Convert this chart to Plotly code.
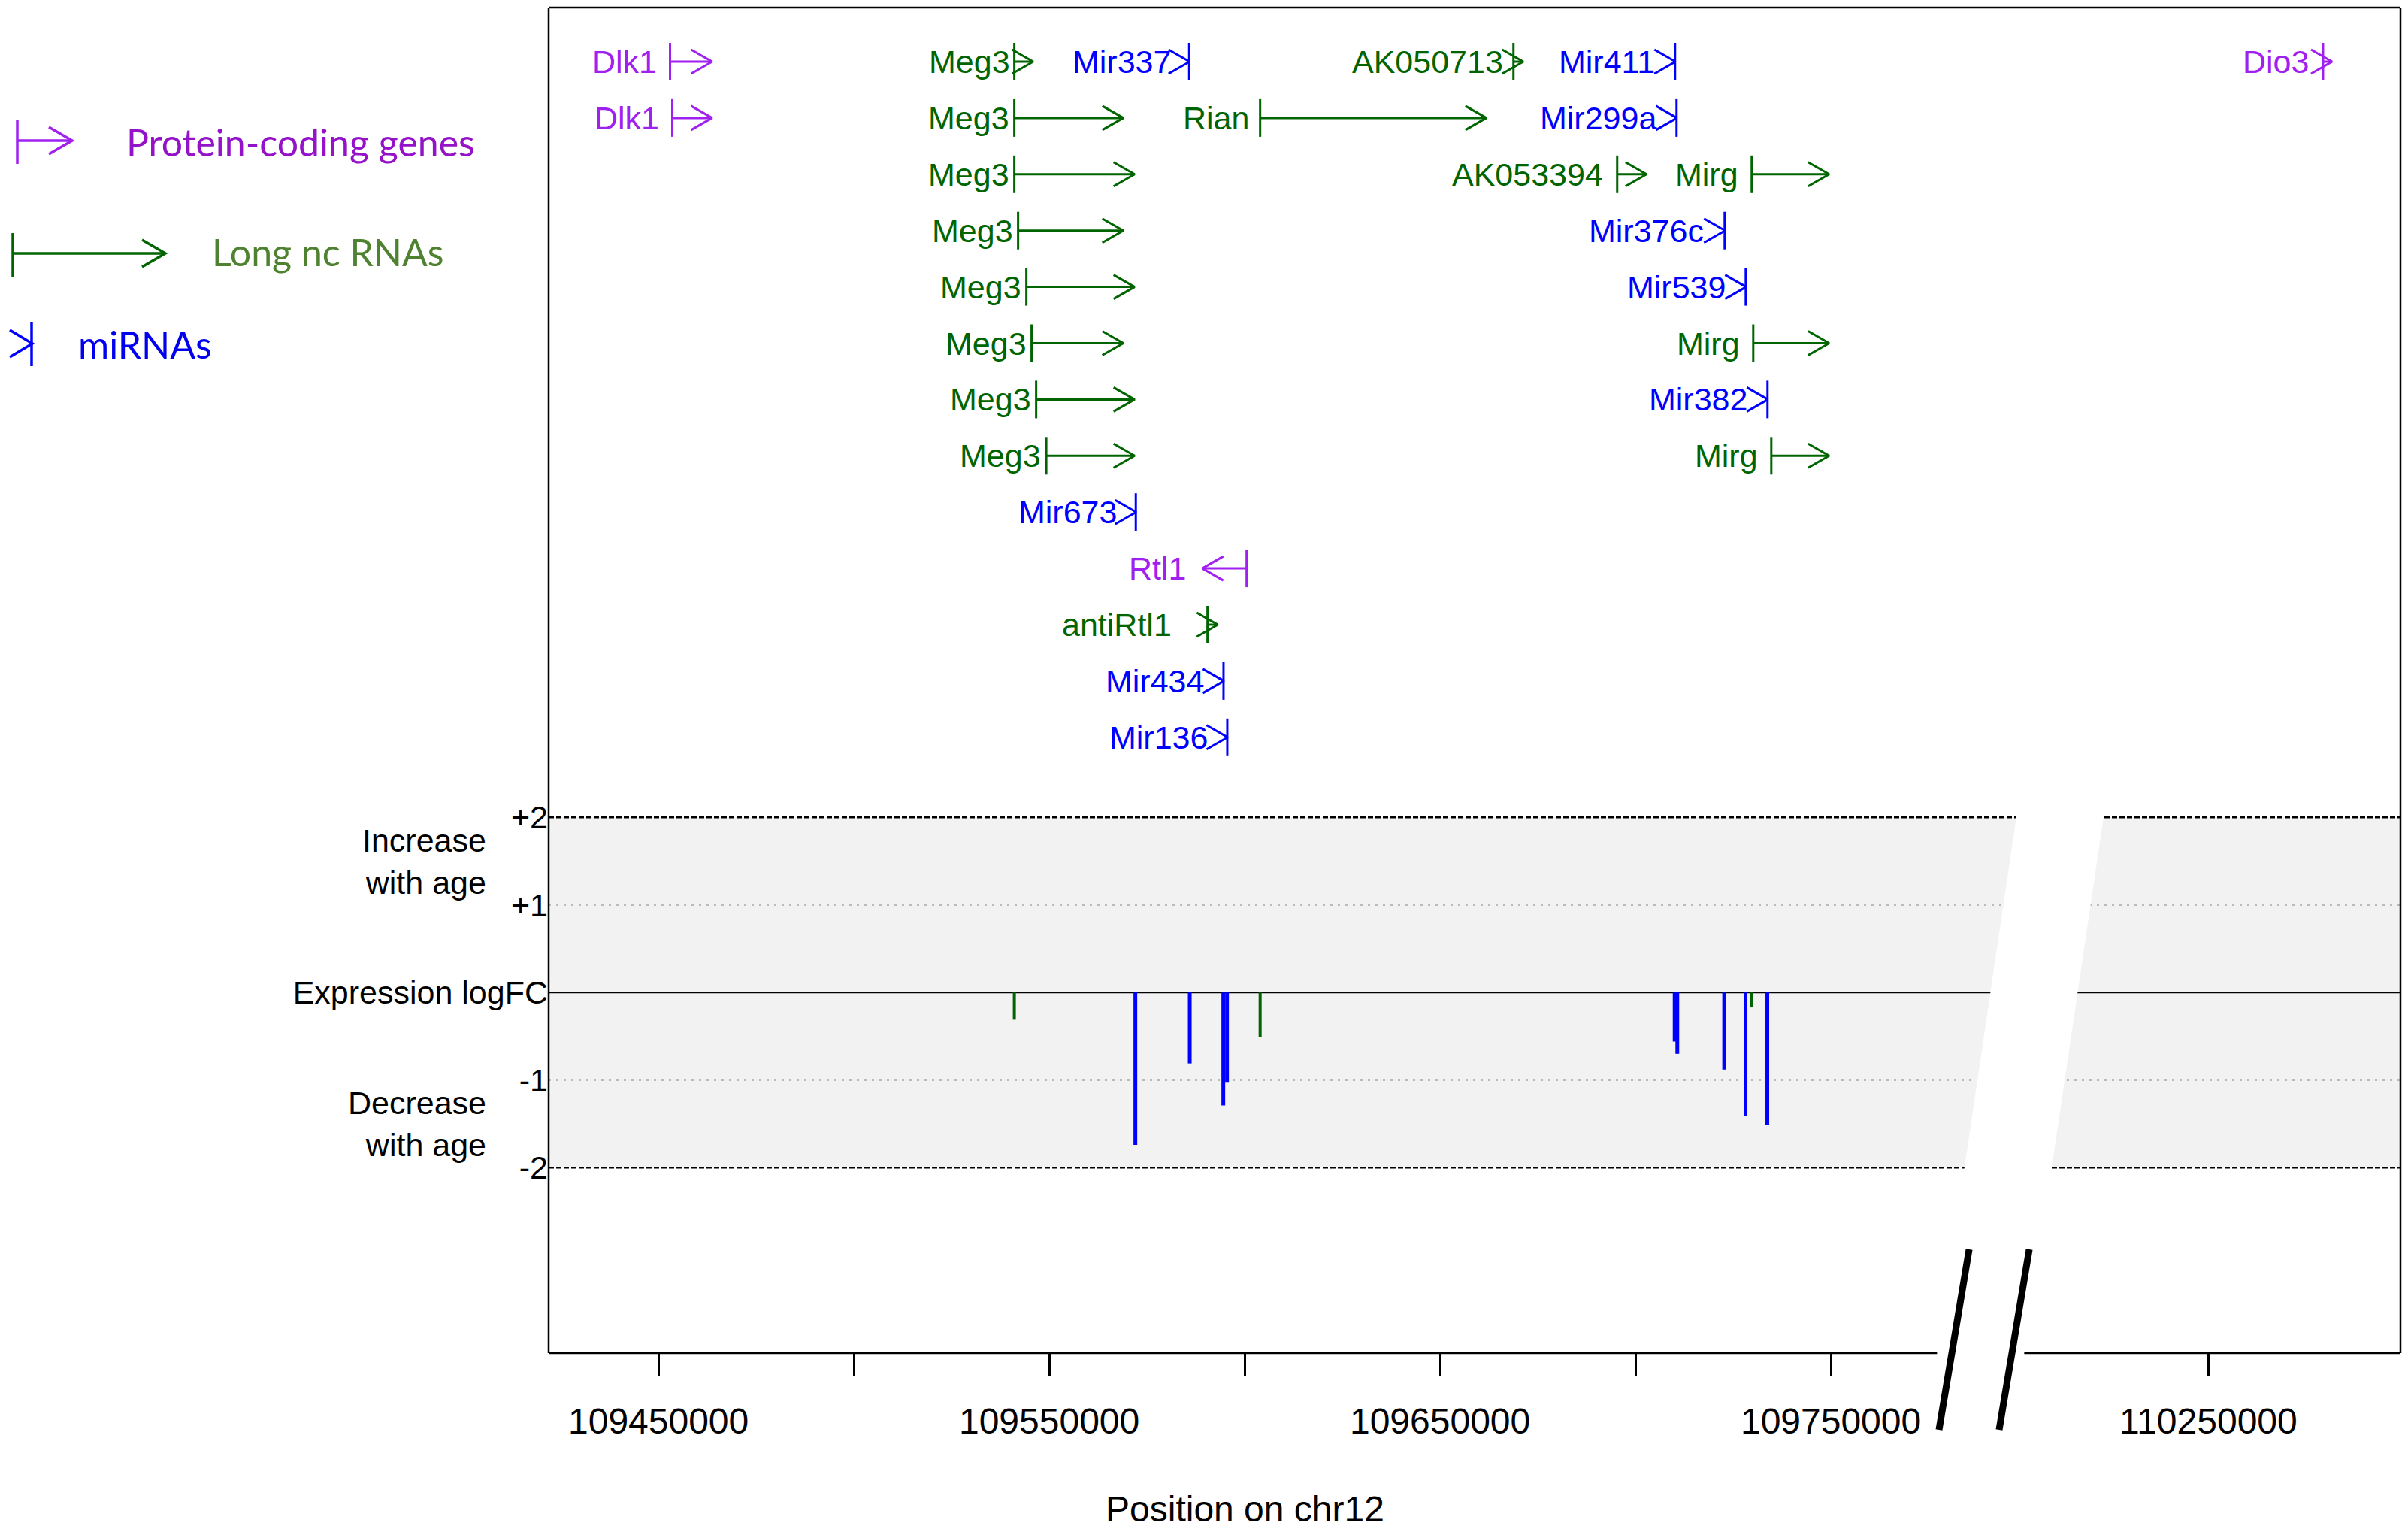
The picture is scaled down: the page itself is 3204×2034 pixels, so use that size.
import plotly.graph_objects as go

# ------------------------------------------------------------------ data
gene_names = ["Dlk1", "Meg3", "Mir337", "AK050713", "Mir411", "Dio3",
              "Dlk1", "Meg3", "Rian", "Mir299a",
              "Meg3", "AK053394", "Mirg",
              "Meg3", "Mir376c",
              "Meg3", "Mir539",
              "Meg3", "Mirg",
              "Meg3", "Mir382",
              "Meg3", "Mirg",
              "Mir673", "Rtl1", "antiRtl1", "Mir434", "Mir136"]
gene_types = ["protein", "lnc", "mirna", "lnc", "mirna", "protein",
              "protein", "lnc", "lnc", "mirna",
              "lnc", "lnc", "lnc",
              "lnc", "mirna",
              "lnc", "mirna",
              "lnc", "lnc",
              "lnc", "mirna",
              "lnc", "lnc",
              "mirna", "protein", "lnc", "mirna", "mirna"]
gene_rows = [1, 1, 1, 1, 1, 1,
             2, 2, 2, 2,
             3, 3, 3,
             4, 4,
             5, 5,
             6, 6,
             7, 7,
             8, 8,
             9, 10, 11, 12, 13]
gene_tss = [109452960, 109541060, 109585800, 109668780, 109710130, 110279340,
            109453540, 109541060, 109603960, 109710520,
            109541060, 109695320, 109729750,
            109542020, 109722830,
            109544140, 109728220,
            109545480, 109730140,
            109546640, 109733790,
            109549230, 109734760,
            109572140, 109600500, 109590490, 109594590, 109595550]
gene_tes = [109463730, 109545870, 109585900, 109671280, 109710230, 110281650,
            109463730, 109568950, 109661850, 109710620,
            109571840, 109702830, 109749570,
            109568950, 109722930,
            109571840, 109728320,
            109568950, 109749570,
            109571840, 109733890,
            109571840, 109749570,
            109572240, 109589150, 109593130, 109594690, 109595650]
label_gap_px = [16, 4, 22, 12, 25, 17,
                16, 5, 13, 25,
                5, 17, 16,
                5, 26,
                5, 25,
                5, 16,
                5, 25,
                5, 16,
                23, 20, 46, 24, 24]

de_names = ["Meg3", "Mir673", "Mir337", "Mir434", "Mir136", "Rian",
            "Mir411", "Mir299a", "Mir376c", "Mir539", "Mirg", "Mir382"]
de_types = ["lnc", "mirna", "mirna", "mirna", "mirna", "lnc",
            "mirna", "mirna", "mirna", "mirna", "lnc", "mirna"]
de_pos = [109541060, 109572030, 109585950, 109594530, 109595490, 109603960,
          109710030, 109710710, 109722700, 109728160, 109729700, 109733740]
de_logfc = [-0.31, -1.74, -0.81, -1.29, -1.03, -0.51,
            -0.56, -0.70, -0.88, -1.41, -0.17, -1.51]

x_tick_pos = [109450000, 109500000, 109550000, 109600000, 109650000,
              109700000, 109750000, 110250000]
x_tick_labels = ["109450000", "", "109550000", "", "109650000",
                 "", "109750000", "110250000"]
y_tick_vals = [2, 1, 0, -1, -2]
y_tick_text = ["+2", "+1", "Expression logFC", "-1", "-2"]

legend_labels = ["Protein-coding genes", "Long nc RNAs", "miRNAs"]

# ------------------------------------------------------------------ styling / layout
FONT = "Liberation Sans, Arial, sans-serif"
LEG_FONT = "Lato, Calibri, sans-serif"
COL = {"protein": "#A020F0", "lnc": "#006400", "mirna": "#0000FF"}
LEG_TXT_COL = {"protein": "#9412C8", "lnc": "#4F8230", "mirna": "#0000EE"}

FIG_W, FIG_H = 3204, 2034
M_L, M_R, M_T, M_B = 730, 10, 10, 234
PLOT_W = FIG_W - M_L - M_R
PLOT_H = FIG_H - M_T - M_B

BREAK_AT = 109800000        # genomic positions beyond this are drawn after the axis break
BREAK_GAP = 403400          # genomic span skipped by the break
X_RANGE = [109421900, 109895760]
Y_RANGE = [-4.118, 11.247]
ROW_PITCH_PX = 74.9
ROW1_OFFSET_PX = 72
Y2_RANGE = [1 + (PLOT_H - ROW1_OFFSET_PX) / ROW_PITCH_PX, 1 - ROW1_OFFSET_PX / ROW_PITCH_PX]

BP_PER_PX = (X_RANGE[1] - X_RANGE[0]) / PLOT_W
ROW_PER_PX = 1.0 / ROW_PITCH_PX
LFC_PER_PX = (Y_RANGE[1] - Y_RANGE[0]) / PLOT_H

HEAD_LEN_PX, HEAD_HALF_PX, BAR_HALF_PX = 28, 16, 25


def to_axis(g):
    return g - BREAK_GAP if g > BREAK_AT else g


def ax_px(v):          # axis value -> absolute page pixel (x)
    return M_L + (v - X_RANGE[0]) / BP_PER_PX


def lfc_px(v):         # logFC value -> absolute page pixel (y)
    return M_T + (Y_RANGE[1] - v) / LFC_PER_PX


def px_paper_x(px):
    return (px - M_L) / PLOT_W


def px_paper_y(py):
    return (M_T + PLOT_H - py) / PLOT_H


fig = go.Figure()

# ------------------------------------------------------------------ gene glyphs
annotations = []
for typ in ["protein", "lnc", "mirna"]:
    xs, ys = [], []
    for name, t, row, tss, tes, gap in zip(gene_names, gene_types, gene_rows,
                                           gene_tss, gene_tes, label_gap_px):
        if t != typ:
            continue
        a0, a1 = to_axis(tss), to_axis(tes)
        d = 1 if a1 >= a0 else -1
        hx = a1 - d * HEAD_LEN_PX * BP_PER_PX
        xs += [a0, a0, None, a0, a1, None, hx, a1, hx, None]
        ys += [row - BAR_HALF_PX * ROW_PER_PX, row + BAR_HALF_PX * ROW_PER_PX, None,
               row, row, None,
               row - HEAD_HALF_PX * ROW_PER_PX, row, row + HEAD_HALF_PX * ROW_PER_PX, None]
        annotations.append(dict(x=min(a0, a1), y=row, xref="x", yref="y2",
                                text=name, showarrow=False, xanchor="right",
                                yanchor="middle", xshift=-gap,
                                font=dict(family=FONT, size=43, color=COL[t])))
    fig.add_trace(go.Scatter(x=xs, y=ys, yaxis="y2", mode="lines",
                             line=dict(color=COL[typ], width=3),
                             hoverinfo="skip", showlegend=False))

# ------------------------------------------------------------------ logFC bars
for typ, w in [("lnc", 4), ("mirna", 5)]:
    xs, ys = [], []
    for t, p, v in zip(de_types, de_pos, de_logfc):
        if t != typ:
            continue
        xs += [to_axis(p), to_axis(p), None]
        ys += [0, v, None]
    fig.add_trace(go.Scatter(x=xs, y=ys, mode="lines",
                             line=dict(color=COL[typ], width=w),
                             hoverinfo="skip", showlegend=False))

# ------------------------------------------------------------------ shapes
shapes = []
shapes.append(dict(type="rect", xref="paper", yref="y", x0=0, x1=1, y0=-2, y1=2,
                   fillcolor="#F2F2F2", line=dict(width=0), layer="below"))
for v in [1, -1]:
    shapes.append(dict(type="line", xref="paper", yref="y", x0=0, x1=1, y0=v, y1=v,
                       line=dict(color="#BBBBBB", width=2.5, dash="3px,7px"), layer="below"))
for v in [2, -2]:
    shapes.append(dict(type="line", xref="paper", yref="y", x0=0, x1=1, y0=v, y1=v,
                       line=dict(color="black", width=2.5, dash="7px,3px"), layer="below"))
shapes.append(dict(type="line", xref="paper", yref="y", x0=0, x1=1, y0=0, y1=0,
                   line=dict(color="black", width=2), layer="below"))

# axis break (slanted white gap)
BREAK_CENTER = 109801980
SLANT, HALF = 0.148, 58
cx0, cy0 = ax_px(BREAK_CENTER), lfc_px(0)


def cx(py):
    return cx0 - SLANT * (py - cy0)


pt, pb = lfc_px(2.06), lfc_px(-2.06)
poly = [(cx(pt) - HALF, pt), (cx(pt) + HALF, pt), (cx(pb) + HALF, pb), (cx(pb) - HALF, pb)]
path = "M " + " L ".join(f"{px_paper_x(a):.5f},{px_paper_y(b):.5f}" for a, b in poly) + " Z"
shapes.append(dict(type="path", xref="paper", yref="paper", path=path,
                   fillcolor="white", line=dict(width=0), layer="below"))

# frame (bottom line interrupted at the break)
yb = M_T + PLOT_H
gap_l, gap_r = cx(yb) - HALF, cx(yb) + HALF
frame = [((M_L, yb), (gap_l, yb)), ((gap_r, yb), (M_L + PLOT_W, yb)),
         ((M_L, M_T), (M_L + PLOT_W, M_T)), ((M_L, M_T), (M_L, yb)),
         ((M_L + PLOT_W, M_T), (M_L + PLOT_W, yb))]
for (a, b), (c, d) in frame:
    shapes.append(dict(type="line", xref="paper", yref="paper",
                       x0=px_paper_x(a), y0=px_paper_y(b), x1=px_paper_x(c), y1=px_paper_y(d),
                       line=dict(color="black", width=2.5), layer="above"))

# break slashes
S_SLANT = 0.167
for off in [-38, 42]:
    y_top, y_bot = 1662, 1902
    ymid = (y_top + y_bot) / 2
    xm = cx(ymid) + off
    x_top = xm + S_SLANT * (ymid - y_top)
    x_bot = xm - S_SLANT * (y_bot - ymid)
    shapes.append(dict(type="line", xref="paper", yref="paper",
                       x0=px_paper_x(x_top), y0=px_paper_y(y_top),
                       x1=px_paper_x(x_bot), y1=px_paper_y(y_bot),
                       line=dict(color="black", width=9), layer="above"))

# ------------------------------------------------------------------ custom legend
leg = [("protein", 23, 187, 96, 160, 218, 166, 189),
       ("lnc", 17, 337, 220, 310, 368, 280, 335),
       ("mirna", 42, 457, 43, 428, 487, 102, 458)]
for (typ, bx, ly, tip, b0, b1, tx, ty), label in zip(leg, legend_labels):
    segs = [((bx, b0), (bx, b1)), ((bx, ly), (tip, ly))]
    for (a, b), (c, d) in segs:
        shapes.append(dict(type="line", xref="paper", yref="paper",
                           x0=px_paper_x(a), y0=px_paper_y(b), x1=px_paper_x(c), y1=px_paper_y(d),
                           line=dict(color=COL[typ], width=3.5), layer="above"))
    hl = 31 if typ != "mirna" else 30
    chev = [(tip - hl, ly - 18), (tip, ly), (tip - hl, ly + 18)]
    cpath = "M " + " L ".join(f"{px_paper_x(a):.5f},{px_paper_y(b):.5f}" for a, b in chev)
    shapes.append(dict(type="path", xref="paper", yref="paper", path=cpath,
                       fillcolor="rgba(0,0,0,0)", line=dict(color=COL[typ], width=3.5),
                       layer="above"))
    annotations.append(dict(x=px_paper_x(tx), y=px_paper_y(ty), xref="paper", yref="paper",
                            text=label, showarrow=False, xanchor="left", yanchor="middle",
                            font=dict(family=LEG_FONT, size=50, color=LEG_TXT_COL[typ])))

# y-axis side notes
for txt, v in [("Increase<br>with age", 1.5), ("Decrease<br>with age", -1.5)]:
    annotations.append(dict(x=0, y=v, xref="paper", yref="y", xshift=-81,
                            text=txt, showarrow=False, xanchor="right", yanchor="middle",
                            align="right", font=dict(family=FONT, size=43, color="black")))

# x title
annotations.append(dict(x=109600000, y=px_paper_y(2007), xref="x", yref="paper",
                        text="Position on chr12", showarrow=False, xanchor="center",
                        yanchor="middle", font=dict(family=FONT, size=48, color="black")))

fig.update_layout(
    width=FIG_W, height=FIG_H, autosize=False,
    margin=dict(l=M_L, r=M_R, t=M_T, b=M_B, pad=0),
    paper_bgcolor="white", plot_bgcolor="white",
    showlegend=False,
    xaxis=dict(range=X_RANGE, tickvals=[to_axis(v) for v in x_tick_pos],
               ticktext=x_tick_labels, ticks="outside", ticklen=30, tickwidth=2.5,
               tickcolor="black", showline=False, showgrid=False, zeroline=False,
               tickfont=dict(family=FONT, size=48, color="black"),
               ticklabelstandoff=18),
    yaxis=dict(range=Y_RANGE, tickvals=y_tick_vals, ticktext=y_tick_text, ticks="",
               showline=False, showgrid=False, zeroline=False,
               tickfont=dict(family=FONT, size=43, color="black"),
               ticklabelstandoff=0),
    yaxis2=dict(range=Y2_RANGE, overlaying="y", visible=False),
    shapes=shapes,
    annotations=annotations,
)

fig.write_html("out.html", config={"displayModeBar": False},
               post_script="document.body.style.margin='0';document.body.style.overflow='hidden';")
